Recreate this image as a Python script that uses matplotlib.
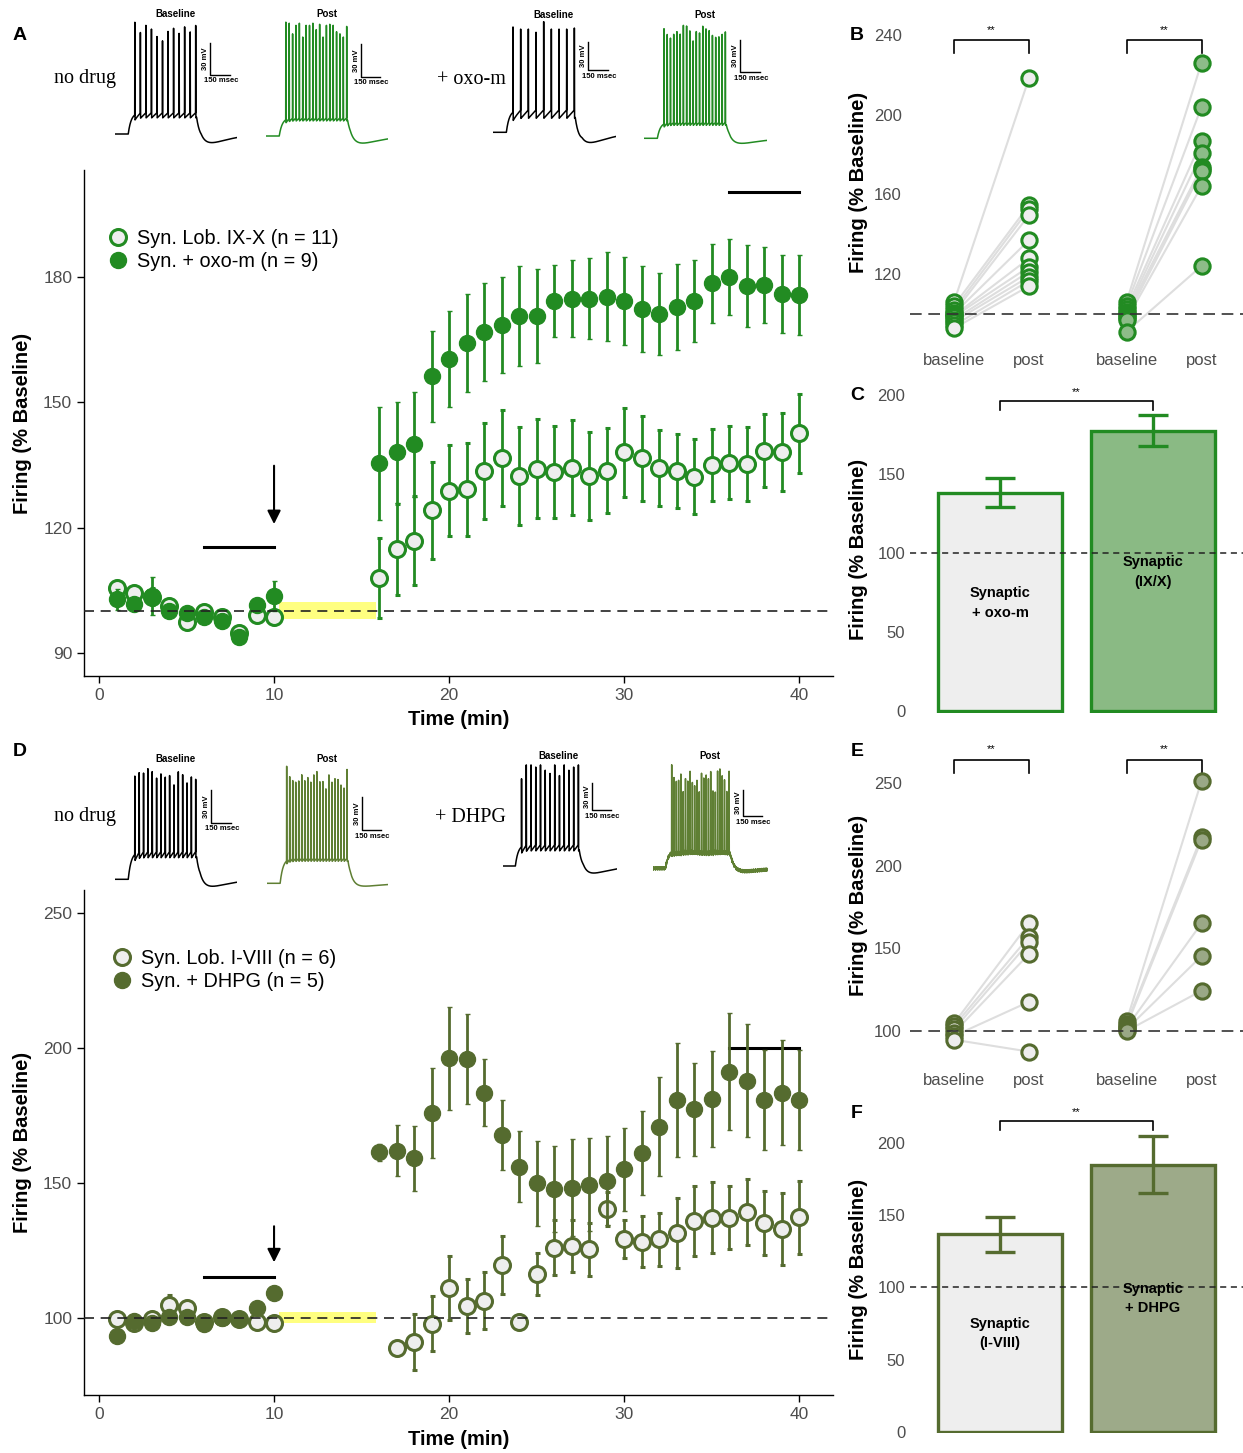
import numpy as np
import matplotlib
matplotlib.use("Agg")
import matplotlib.pyplot as plt
import matplotlib.transforms as mtransforms
from matplotlib.lines import Line2D

plt.rcParams["font.family"] = ["Liberation Sans", "DejaVu Sans"]

W, H = 1243, 1453
GREEN = "#228B22"
OLIVE = "#556B2F"
LIGHT = "#eeeeee"
TICK_GRAY = "#4d4d4d"

# time course, % of baseline firing; minutes 1-10 before and 16-40 after the drug
minutes = list(range(1, 11)) + list(range(16, 41))

ixx_mean = [105.5, 104.3, 103.5, 101.3, 97.5, 99.9, 98.5, 94.7, 99.1, 98.5,
            107.9, 114.8, 116.9, 124.2, 128.9, 129.2, 133.6, 136.6, 132.4, 134.1,
            133.3, 134.4, 132.4, 133.6, 138.0, 136.6, 134.4, 133.6, 132.2, 135.0,
            135.6, 135.2, 138.4, 138.1, 142.6]
ixx_sem = [1.5, 1.5, 2.0, 1.5, 1.5, 1.2, 1.2, 1.5, 1.5, 1.5,
           9.6, 10.9, 10.6, 11.6, 10.8, 11.1, 11.5, 11.5, 11.7, 11.8,
           11.0, 11.3, 10.5, 10.2, 10.6, 10.1, 9.1, 8.9, 9.0, 8.6,
           8.8, 8.9, 8.7, 9.3, 9.5]
oxo_mean = [102.9, 101.7, 103.7, 100.1, 99.5, 98.7, 97.7, 93.8, 101.5, 103.7,
            135.4, 138.0, 140.0, 156.3, 160.4, 164.3, 166.8, 168.5, 170.7, 170.7,
            174.3, 174.8, 174.8, 175.3, 174.3, 172.3, 171.1, 172.9, 174.3, 178.5,
            180.1, 177.9, 178.2, 175.9, 175.7]
oxo_sem = [2.5, 1.5, 4.5, 1.5, 1.2, 1.2, 1.2, 1.5, 1.5, 3.6,
           13.5, 12.0, 12.6, 10.9, 11.5, 11.7, 11.7, 11.4, 12.0, 11.2,
           8.7, 9.2, 9.7, 10.6, 10.6, 10.3, 9.8, 10.3, 9.9, 9.4,
           9.1, 9.8, 9.1, 9.3, 9.5]

i8_mean = [99.5, 98.0, 99.5, 104.8, 103.6, 98.6, 100.2, 99.6, 98.4, 98.0,
           np.nan, 88.8, 91.2, 97.8, 111.1, 104.4, 106.4, 119.6, 98.4, 116.2,
           126.0, 126.7, 125.4, 140.4, 129.4, 128.3, 129.1, 131.6, 135.9, 137.2,
           137.2, 139.4, 135.1, 133.0, 137.3]
i8_sem = [1.5, 1.5, 1.5, 3.7, 2.0, 1.5, 1.5, 1.5, 1.5, 2.5,
          np.nan, 0.0, 10.3, 10.2, 11.7, 10.0, 10.5, 10.9, 0.0, 7.7,
          10.2, 9.6, 9.7, 6.2, 7.0, 9.5, 9.9, 13.0, 12.8, 13.0,
          11.8, 12.2, 11.9, 13.4, 13.5]
dhpg_mean = [93.3, 99.0, 98.3, 100.5, 100.5, 97.7, 100.0, 99.6, 103.6, 109.4,
             161.4, 161.9, 159.1, 176.0, 196.2, 195.8, 183.5, 167.8, 156.1, 149.9,
             147.7, 148.3, 149.3, 150.9, 155.1, 161.0, 170.9, 180.7, 177.3, 181.0,
             191.2, 187.8, 180.7, 183.5, 180.7]
dhpg_sem = [1.5, 1.5, 1.5, 2.0, 1.5, 1.5, 1.5, 1.5, 2.0, 2.0,
            3.2, 9.4, 12.0, 16.7, 19.0, 16.7, 12.5, 13.0, 13.2, 15.7,
            16.0, 17.9, 17.2, 16.5, 15.4, 15.6, 18.5, 21.0, 17.3, 17.7,
            21.7, 20.9, 18.6, 19.6, 18.4]

# single cells, baseline vs post
pair_labels = ["baseline", "post", "baseline", "post"]
b_ixx_base = [105.9, 104.0, 102.0, 100.5, 100.0, 99.0, 98.5, 97.0, 96.0, 94.0, 92.6]
b_ixx_post = [218.3, 154.5, 152.5, 149.5, 136.9, 127.7, 123.5, 121.0, 118.5, 116.5, 113.8]
b_oxo_base = [105.9, 104.0, 102.5, 101.0, 100.0, 99.0, 98.0, 97.0, 90.9]
b_oxo_post = [226.0, 203.9, 186.7, 180.5, 173.5, 172.5, 171.5, 164.1, 123.9]
e_i8_base = [104.6, 103.0, 101.0, 99.0, 97.0, 94.7]
e_i8_post = [165.2, 157.1, 153.7, 146.6, 117.7, 87.5]
e_dhpg_base = [106.0, 104.5, 103.0, 102.0, 101.0, 100.0]
e_dhpg_post = [251.4, 217.7, 215.7, 165.2, 145.4, 124.4]

# group means at 36-40 min
c_means = [138.2, 177.5]
c_sems = [9.0, 9.7]
c_labels = ["Synaptic\n+ oxo-m", "Synaptic\n(IX/X)"]
f_means = [136.9, 185.3]
f_sems = [12.3, 20.0]
f_labels = ["Synaptic\n(I-VIII)", "Synaptic\n+ DHPG"]

# example recordings: spike peaks (mV), plateau and after-step trough (mV)
a_base_peaks = [40, 37, 39, 39, 30, 26, 37, 37, 37, 37, 39, 37]
a_post_peaks = [42, 41, 31, 39, 41, 28, 39, 39, 41, 35, 40, 28, 39, 40, 39, 33, 31, 28, 38]
oxo_base_peaks = [34, 32, 32, 29, 39, 32, 32, 32, 33]
oxo_post_peaks = [38, 36, 36, 41, 41, 36, 42, 43, 42, 35, 42, 38, 42, 39, 41, 40, 37, 35, 35, 35]
d_base_peaks = [32, 41, 41, 41, 39, 38, 38, 31, 38, 29, 38, 36, 33, 35, 29]
d_post_peaks = [45, 38, 37, 38, 35, 37, 34, 40, 38, 41, 40, 33, 36, 31, 41, 30, 36, 38, 35, 28, 42]
dhpg_base_peaks = [17, 30, 30, 28, 30, 25, 22, 30, 20, 30, 25, 28, 30]
dhpg_post_peaks = [32, 25, 24, 20, 25, 10, 25, 22, 27, 18, 20, 22, 8, 27, 26, 28, 22,
                   26, 14, 12, 28, 30, 27, 24, 10, 26]
trace_plateau = [-45, -48, -44, -50, -39, -41.5, -45, -49]
trace_trough = [-73.5, -72, -75, -70, -72, -68, -72, -68]


fig = plt.figure(figsize=(W / 100, H / 100), dpi=100)
px = mtransforms.Affine2D().scale(1 / W, -1 / H).translate(0, 1) + fig.transFigure


def rect(l, t, r, b):
    return [l / W, 1 - b / H, (r - l) / W, (b - t) / H]


def ap_trace(peaks, plateau, trough, rest=-65.0, t_on=90, t_off=555, t_end=830, ahp=5.0, ripple=0.0):
    t = np.arange(0, t_end, 0.25)
    v = np.full(t.shape, rest)
    on = (t >= t_on) & (t < t_off)
    v[on] = plateau - (plateau - rest) * np.exp(-(t[on] - t_on) / 20)
    off = t >= t_off
    dt = t[off] - t_off
    v[off] = rest + (plateau - rest) * np.exp(-dt / 25) + (trough - rest) * (dt / 90) * np.exp(1 - dt / 90)
    spikes = np.linspace(t_on + 45, t_off - 6, len(peaks))
    isi = spikes[1] - spikes[0]
    for s, p in zip(spikes, peaks):
        tail = (t >= s) & (t < s + isi)
        v[tail] -= ahp * (1 - (t[tail] - s) / isi)
        up = (t >= s - 1.0) & (t < s)
        v[up] = v[up] + (p - v[up]) * (1 - (s - t[up]))
        dn = (t >= s) & (t < s + 1.5)
        v[dn] = p - (p - v[dn]) * ((t[dn] - s) / 1.5)
    if ripple:
        v = v + ripple * np.sin(t * 2.9) * (0.6 + 0.4 * np.sin(t * 0.41))
    return t, v


def draw_trace(x0, x1, rest_px, peaks, plateau, trough, color, title, title_xy, bar_x, bar_top,
               bar_v, bar_h, ahp=5.0, ripple=0.0):
    ax = fig.add_axes(rect(x0, rest_px - 130, x1, rest_px + 15))
    t, v = ap_trace(peaks, plateau, trough, ahp=ahp, ripple=ripple)
    ax.plot(t, v, color=color, lw=1.1)
    ax.set_xlim(0, 830)
    ax.set_ylim(-65 - 15 * 0.94, -65 + 130 * 0.94)
    ax.axis("off")
    fig.text(title_xy[0], title_xy[1], title, transform=px, ha="center", va="center",
             fontsize=7, fontweight="bold")
    fig.add_artist(Line2D([bar_x, bar_x, bar_x + bar_h], [bar_top, bar_top + bar_v, bar_top + bar_v],
                          transform=px, color="k", lw=1.0))
    fig.text(bar_x - 4, bar_top + bar_v / 2, "30 mV", transform=px, rotation=90,
             ha="center", va="center", fontsize=5.5, fontweight="bold")
    fig.text(bar_x + bar_h / 2 + 1, bar_top + bar_v + 6, "150 msec", transform=px,
             ha="center", va="center", fontsize=5.5, fontweight="bold")


def time_course(rect_px, ylim, yticks, open_m, open_e, fill_m, fill_e, color, labels,
                bar_lo, bar_hi, arrow, legend_anchor, xlab_y):
    ax = fig.add_axes(rect(*rect_px))
    ax.axhspan(98.2, 102.1, xmin=(10.3 + 0.86) / 42.8, xmax=(15.8 + 0.86) / 42.8,
               color="#ffff80", lw=0, zorder=1)
    ax.errorbar(minutes, open_m, yerr=open_e, fmt="o", ms=11.5, mfc=LIGHT, mec=color, mew=2.2,
                ecolor=color, elinewidth=2, capsize=1.8, capthick=2, zorder=3)
    ax.errorbar(minutes, fill_m, yerr=fill_e, fmt="o", ms=11.5, mfc=color, mec=color, mew=1,
                ecolor=color, elinewidth=2, capsize=1.8, capthick=2, zorder=4)
    ax.axhline(100, color="#222222", lw=1.2, dashes=(6, 4), zorder=5)
    ax.plot([6, 10], [bar_lo, bar_lo], color="k", lw=2.2)
    ax.plot([36, 40], [bar_hi, bar_hi], color="k", lw=2.2)
    ax.annotate("", xy=(10, arrow[1]), xytext=(10, arrow[0]),
                arrowprops=dict(arrowstyle="-|>", color="k", lw=1.5, mutation_scale=20))
    ax.set_xlim(-0.86, 41.94)
    ax.set_ylim(*ylim)
    ax.set_xticks([0, 10, 20, 30, 40])
    ax.set_yticks(yticks)
    for side in ("top", "right"):
        ax.spines[side].set_visible(False)
    for side in ("left", "bottom"):
        ax.spines[side].set_linewidth(1.0)
    ax.tick_params(direction="out", length=5, width=1, labelsize=12.5, labelcolor=TICK_GRAY)
    ax.set_xlabel("Time (min)", fontsize=14.5, fontweight="bold")
    ax.set_ylabel("Firing (% Baseline)", fontsize=14.5, fontweight="bold")
    ax.xaxis.set_label_coords(0.5, xlab_y)
    ax.yaxis.set_label_coords(-0.069, 0.5)
    handles = [Line2D([], [], ls="none", marker="o", ms=11.5, mfc=LIGHT, mec=color, mew=2.2),
               Line2D([], [], ls="none", marker="o", ms=11.5, mfc=color, mec=color)]
    ax.legend(handles, labels, loc="upper left", bbox_to_anchor=legend_anchor, frameon=False,
              borderaxespad=0, borderpad=0, handlelength=0.9, handletextpad=0.5,
              labelspacing=0.2, fontsize=14.3)
    return ax


def paired(rect_px, ylim, yticks, groups, color, fill2, bracket, star_y):
    ax = fig.add_axes(rect(*rect_px))
    xs = [0, 1, 2.3, 3.3]
    for k, (base, post) in enumerate(groups):
        x0, x1 = xs[2 * k], xs[2 * k + 1]
        for b, p in zip(base, post):
            ax.plot([x0, x1], [b, p], color="#dedede", lw=1.5, zorder=1)
        face = LIGHT if k == 0 else fill2
        ax.plot([x0] * len(base), base, "o", ms=11, mfc=face, mec=color, mew=2.2, zorder=3)
        ax.plot([x1] * len(post), post, "o", ms=11, mfc=face, mec=color, mew=2.2, zorder=3)
        ax.plot([x0, x0, x1, x1], [bracket[0], bracket[1], bracket[1], bracket[0]], color="k", lw=1.2)
        ax.text((x0 + x1) / 2, star_y, "**", ha="center", va="center", fontsize=8)
    ax.axhline(100, color="#333333", lw=1.2, dashes=(7, 4), zorder=5)
    ax.set_xlim(-0.587, 3.853)
    ax.set_ylim(*ylim)
    ax.set_xticks(xs)
    ax.set_xticklabels(pair_labels)
    ax.set_yticks(yticks)
    for s in ax.spines.values():
        s.set_visible(False)
    ax.tick_params(length=0, labelsize=12, labelcolor=TICK_GRAY, pad=6)
    ax.set_ylabel("Firing (% Baseline)", fontsize=14.5, fontweight="bold")
    ax.yaxis.set_label_coords(-0.126, 0.5)
    return ax


def bars(rect_px, ylim, yticks, means, sems, labels, label_y, color, fill2, bracket, star_y):
    ax = fig.add_axes(rect(*rect_px))
    ax.bar([0, 1], means, width=0.81, color=[LIGHT, fill2], edgecolor=color, linewidth=2.4, zorder=2)
    ax.errorbar([0, 1], means, yerr=sems, fmt="none", ecolor=color, elinewidth=2.4,
                capsize=11, capthick=2.4, zorder=3)
    ax.axhline(100, color="#222222", lw=1.1, dashes=(4, 3), zorder=4)
    for x, lab, y in zip([0, 1], labels, label_y):
        ax.text(x, y, lab, ha="center", va="center", fontsize=10.5, fontweight="bold",
                linespacing=1.5, zorder=5)
    ax.plot([0, 0, 1, 1], [bracket[0], bracket[1], bracket[1], bracket[0]], color="k", lw=1.2)
    ax.text(0.5, star_y, "**", ha="center", va="center", fontsize=8)
    ax.set_xlim(-0.588, 1.588)
    ax.set_ylim(*ylim)
    ax.set_xticks([])
    ax.set_yticks(yticks)
    for s in ax.spines.values():
        s.set_visible(False)
    ax.tick_params(length=0, labelsize=12, labelcolor=TICK_GRAY)
    ax.set_ylabel("Firing (% Baseline)", fontsize=14.5, fontweight="bold")
    ax.yaxis.set_label_coords(-0.126, 0.5)
    return ax


# ---- A: Lobule IX-X with oxo-m ----
time_course((84, 170, 833, 676), (84.49, 205.63), [90, 120, 150, 180],
            ixx_mean, ixx_sem, oxo_mean, oxo_sem, GREEN,
            ["Syn. Lob. IX-X (n = 11)", "Syn. + oxo-m (n = 9)"],
            115.4, 200.4, (135.5, 120.2), (0.0334, 0.884), -0.067)

# ---- D: Lobule I-VIII with DHPG ----
time_course((84, 890, 833, 1395), (71.48, 258.5), [100, 150, 200, 250],
            i8_mean, i8_sem, dhpg_mean, dhpg_sem, OLIVE,
            ["Syn. Lob. I-VIII (n = 6)", "Syn. + DHPG (n = 5)"],
            115.1, 200.1, (135.0, 119.6), (0.0387, 0.884), -0.069)

paired((910, 20, 1243, 345), (84.2, 247.5), [120, 160, 200, 240],
       [(b_ixx_base, b_ixx_post), (b_oxo_base, b_oxo_post)], GREEN, "#8dbc88",
       (230.9, 237.4), 242.5)
bars((910, 385, 1243, 713), (-1.27, 206.3), [0, 50, 100, 150, 200],
     c_means, c_sems, c_labels, [68.4, 88.0], GREEN, "#8aba84", (190.5, 196.4), 202.1)
paired((910, 745, 1243, 1065), (79.4, 273.2), [100, 150, 200, 250],
       [(e_i8_base, e_i8_post), (e_dhpg_base, e_dhpg_post)], OLIVE, "#9aa886",
       (256.0, 264.1), 270.8)
bars((910, 1105, 1243, 1433), (-0.97, 226.6), [0, 50, 100, 150, 200],
     f_means, f_sems, f_labels, [68.2, 92.4], OLIVE, "#9daa89", (209.2, 215.7), 221.9)

# ---- example traces ----
post_d = "#5f7f33"
draw_trace(115, 237, 134, a_base_peaks, trace_plateau[0], trace_trough[0], "k",
           "Baseline", (176, 14), 210, 43, 32, 20)
draw_trace(266, 388, 136, a_post_peaks, trace_plateau[1], trace_trough[1], GREEN,
           "Post", (327, 14), 361, 44, 33, 19, ahp=3)
draw_trace(493, 616, 132.3, oxo_base_peaks, trace_plateau[2], trace_trough[2], "k",
           "Baseline", (554, 15), 588, 42, 28, 20, ahp=8)
draw_trace(644, 767, 138.3, oxo_post_peaks, trace_plateau[3], trace_trough[3], GREEN,
           "Post", (705, 15), 740, 40, 32, 20, ahp=3)
draw_trace(115, 237, 879.3, d_base_peaks, trace_plateau[4], trace_trough[4], "k",
           "Baseline", (176, 759), 211, 790, 33, 20, ahp=6)
draw_trace(267, 388, 883.3, d_post_peaks, trace_plateau[5], trace_trough[5], post_d,
           "Post", (327, 759), 362, 797, 33, 19, ahp=3)
draw_trace(503, 617, 866, dhpg_base_peaks, trace_plateau[6], trace_trough[6], "k",
           "Baseline", (559, 756), 592, 783, 27, 19, ahp=6)
draw_trace(653, 768, 868.3, dhpg_post_peaks, trace_plateau[7], trace_trough[7], post_d,
           "Post", (710, 756), 743, 790, 26, 19, ahp=3, ripple=1.5)

for x, y, s in [(85, 78, "no drug"), (471, 79, "+ oxo-m"), (85, 816, "no drug"), (470, 817, "+ DHPG")]:
    fig.text(x, y, s, transform=px, ha="center", va="center", fontsize=14.5,
             family=["Liberation Serif", "DejaVu Serif"])

for x, y, s in [(20, 35, "A"), (20, 752, "D"), (857, 35, "B"), (857, 395, "C"),
                (857, 752, "E"), (857, 1113, "F")]:
    fig.text(x, y, s, transform=px, ha="center", va="center", fontsize=14, fontweight="bold")

fig.savefig("out.png", dpi=100)
